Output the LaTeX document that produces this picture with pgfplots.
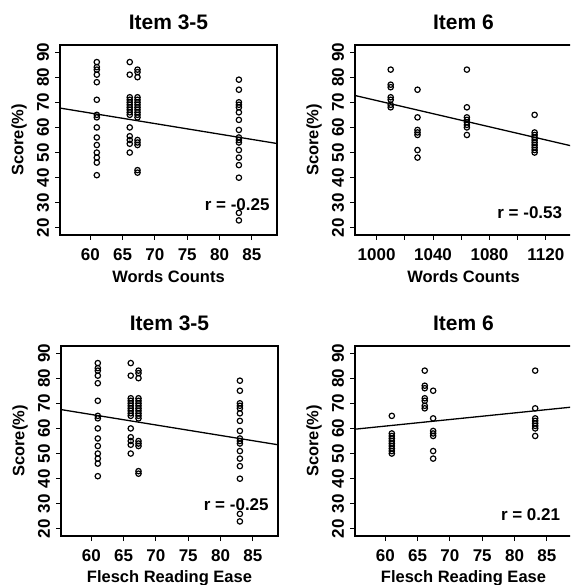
\documentclass[border=0pt]{standalone}
\usepackage{pgfplots}
\pgfplotsset{compat=1.18}
\usepackage{fontspec}
\setmainfont{Liberation Sans}

\pgfplotstableread{
x y
61 86
61 84
61 83
61 81
61 78
61 71
61 65
61 64
61 60
61 56
61 53
61 50
61 48
61 46
61 41
66.1 86
66.1 81
66.1 72
66.1 71
66.1 70
66.1 69
66.1 68
66.1 67
66.1 66
66.1 65
66.1 60
66.1 56.5
66.1 55
66.1 53.5
66.1 50
67.3 83
67.3 82
67.3 80
67.3 72
67.3 71
67.3 70
67.3 69
67.3 68
67.3 67
67.3 66
67.3 65
67.3 64
67.3 55
67.3 54
67.3 53
67.3 43
67.3 42
83 79
83 75
83 70
83 69
83 68
83 66
83 63
83 59
83 56
83 55
83 54
83 51
83 48
83 45
83 40
83 26
83 23
}\itemA

\pgfplotstableread{
w f y
1010 66.1 83
1010 66.1 77
1010 66.1 76
1010 66.1 72
1010 66.1 71
1010 66.1 69
1010 66.1 68
1029 67.4 75
1029 67.4 64
1029 67.4 59
1029 67.4 58
1029 67.4 57
1029 67.4 51
1029 67.4 48
1064 83.2 83
1064 83.2 68
1064 83.2 64
1064 83.2 63
1064 83.2 62
1064 83.2 61
1064 83.2 60
1064 83.2 57
1112 61 65
1112 61 58
1112 61 57
1112 61 56
1112 61 55
1112 61 54
1112 61 53
1112 61 52
1112 61 51
1112 61 50
}\itemB

\tikzset{rlab/.style={anchor=east, font=\fontsize{17}{19}\selectfont\bfseries}}

\pgfplotsset{
  panel/.style={
    scale only axis, width=217pt, height=190pt, anchor=south west,
    ymin=17.2, ymax=92.8, ytick={20,30,...,90},
    axis line style={line width=1.1pt}, tick style={line width=1pt, black},
    tick align=outside, major tick length=5pt,
    xtick pos=bottom, ytick pos=left,
    /pgf/number format/assume math mode=true,
    ticklabel style={font=\fontsize{17}{19}\selectfont\bfseries},
    yticklabel style={rotate=90, anchor=center},
    xticklabel style={anchor=center},
    xticklabel shift=14.5pt, yticklabel shift=12pt,
    label style={font=\fontsize{16.5}{19}\selectfont\bfseries},
    xlabel style={at={(axis description cs:0.5,-0.221)}, anchor=center},
    ylabel style={at={(axis description cs:-0.189,0.5)}, anchor=center},
    title style={at={(axis description cs:0.5,1.032)}, anchor=south,
                 font=\fontsize{21}{24}\selectfont\bfseries},
    ylabel={Score(\%)},
    clip=false,
  },
  pts/.style={only marks, mark=o, mark size=2.7pt, line width=1.2pt, black},
  fit/.style={line width=1.3pt, black, no marks},
}

\begin{document}
\begin{tikzpicture}
\useasboundingbox (0,0) rectangle (570pt,585pt);
\clip (0,0) rectangle (570pt,585pt);

% top left
\begin{axis}[panel, at={(60pt,350pt)}, xmin=55.3, xmax=88.9,
  xtick={60,65,...,85}, title={Item 3-5}, xlabel={Words Counts}]
  \addplot[pts] table[x=x, y=y] {\itemA};
  \addplot[fit] coordinates {(55.3,67.7) (88.9,53.6)};
  \node[rlab] at (axis cs:88.3,29.2) {r = -0.25};
\end{axis}

% top right
\begin{axis}[panel, at={(355pt,350pt)}, xmin=984.7, xmax=1138.5,
  xtick={1000,1020,...,1120}, xticklabels={1000,,1040,,1080,,1120},
  title={Item 6}, xlabel={Words Counts}]
  \addplot[pts] table[x=w, y=y] {\itemB};
  \addplot[fit] coordinates {(984.7,72.7) (1138.5,52.6)};
  \node[rlab] at (axis cs:1134,26) {r = -0.53};
\end{axis}

% bottom left
\begin{axis}[panel, at={(61pt,49pt)}, xmin=55.3, xmax=88.9,
  xtick={60,65,...,85}, title={Item 3-5}, xlabel={Flesch Reading Ease}]
  \addplot[pts] table[x=x, y=y] {\itemA};
  \addplot[fit] coordinates {(55.3,67.5) (88.9,53.5)};
  \node[rlab] at (axis cs:88,29.6) {r = -0.25};
\end{axis}

% bottom right
\begin{axis}[panel, at={(355pt,49pt)}, xmin=55.3, xmax=88.9,
  xtick={60,65,...,85}, title={Item 6}, xlabel={Flesch Reading Ease}]
  \addplot[pts] table[x=f, y=y] {\itemB};
  \addplot[fit] coordinates {(55.3,59.7) (88.9,68.5)};
  \node[rlab] at (axis cs:87.6,25.6) {r = 0.21};
\end{axis}
\end{tikzpicture}
\end{document}
